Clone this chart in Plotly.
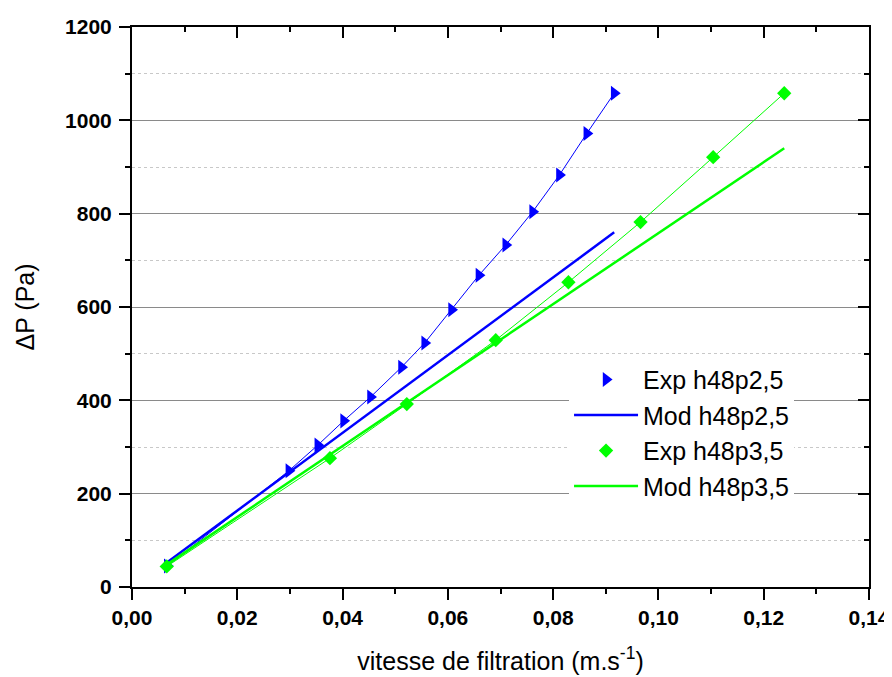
import plotly.graph_objects as go

# Data
exp25_x = [0.0067, 0.0298, 0.0353, 0.0402, 0.0453, 0.0512, 0.0556, 0.0607, 0.0659, 0.0710, 0.0761, 0.0812, 0.0864, 0.0916]
exp25_y = [45, 249, 304, 356, 407, 471, 523, 594, 668, 733, 804, 883, 972, 1058]
mod25_x = [0.0067, 0.0916]
mod25_y = [53, 760]

exp35_x = [0.0066, 0.0376, 0.0522, 0.0691, 0.0829, 0.0966, 0.1104, 0.1239]
exp35_y = [44, 276, 392, 529, 653, 782, 921, 1058]
mod35_x = [0.0066, 0.1239]
mod35_y = [48, 940]

x_tickvals = [0.00, 0.02, 0.04, 0.06, 0.08, 0.10, 0.12, 0.14]
x_ticktext = ["0,00", "0,02", "0,04", "0,06", "0,08", "0,10", "0,12", "0,14"]
y_tickvals = [0, 200, 400, 600, 800, 1000, 1200]
y_ticktext = ["0", "200", "400", "600", "800", "1000", "1200"]

BLUE = "#0000FF"
GREEN = "#00FF00"
FONT = "Liberation Sans, Arial, sans-serif"

fig = go.Figure()
# connecting thin lines for the experimental series (not in legend)
fig.add_trace(go.Scatter(x=exp25_x, y=exp25_y, mode="lines", showlegend=False,
                         line=dict(color=BLUE, width=1), hoverinfo="skip"))
fig.add_trace(go.Scatter(x=exp35_x, y=exp35_y, mode="lines", showlegend=False,
                         line=dict(color=GREEN, width=1), hoverinfo="skip"))
# legend entries
fig.add_trace(go.Scatter(x=exp25_x, y=exp25_y, mode="markers", name="Exp h48p2,5",
                         marker=dict(symbol="triangle-right", size=13, color=BLUE)))
fig.add_trace(go.Scatter(x=mod25_x, y=mod25_y, mode="lines", name="Mod h48p2,5",
                         line=dict(color=BLUE, width=2.5)))
fig.add_trace(go.Scatter(x=exp35_x, y=exp35_y, mode="markers", name="Exp h48p3,5",
                         marker=dict(symbol="diamond", size=11, color=GREEN)))
fig.add_trace(go.Scatter(x=mod35_x, y=mod35_y, mode="lines", name="Mod h48p3,5",
                         line=dict(color=GREEN, width=2.5)))
# invisible copy on the mirror axes so that the top/right frame is drawn
fig.add_trace(go.Scatter(x=exp25_x, y=exp25_y, mode="markers", xaxis="x2", yaxis="y2",
                         marker=dict(opacity=0), showlegend=False, hoverinfo="skip"))

fig.update_layout(
    width=884, height=669,
    margin=dict(l=124, r=23, t=19, b=90),
    paper_bgcolor="white", plot_bgcolor="white",
    font=dict(family=FONT, color="black"),
    showlegend=True,
    legend=dict(x=0.593, y=0.411, xanchor="left", yanchor="top",
                bgcolor="white", borderwidth=0, font=dict(size=25, family=FONT),
                itemwidth=64),
    xaxis=dict(range=[0, 0.14], tickvals=x_tickvals, ticktext=x_ticktext, automargin=False,
               ticks="outside", ticklen=11, tickwidth=2, tickcolor="black",
               showline=True, linewidth=2, linecolor="black", showgrid=False, zeroline=False,
               tickfont=dict(size=21, family=FONT, weight="bold"),
               minor=dict(dtick=0.01, ticks="outside", ticklen=5, tickwidth=2, tickcolor="black", showgrid=False),
               title=dict(text="vitesse de filtration (m.s<sup>-1</sup>)", font=dict(size=25, family=FONT), standoff=24)),
    yaxis=dict(range=[0, 1200], tickvals=y_tickvals, ticktext=y_ticktext, automargin=False,
               ticks="outside", ticklen=11, tickwidth=2, tickcolor="black", ticklabelstandoff=3,
               showline=True, linewidth=2, linecolor="black", zeroline=False,
               showgrid=True, gridcolor="#8a8a8a", gridwidth=1,
               tickfont=dict(size=21, family=FONT, weight="bold"),
               minor=dict(dtick=100, tick0=0, ticks="outside", ticklen=5, tickwidth=2, tickcolor="black",
                          showgrid=True, gridcolor="#c8c8c8", gridwidth=1, griddash="dot"),
               title=dict(text="ΔP (Pa)", font=dict(size=25, family=FONT), standoff=23)),
    xaxis2=dict(overlaying="x", anchor="y2", side="top", range=[0, 0.14], tickvals=x_tickvals, automargin=False,
                ticks="inside", ticklen=11, tickwidth=2, tickcolor="black", showticklabels=False,
                showline=True, linewidth=2, linecolor="black", showgrid=False, zeroline=False,
                minor=dict(dtick=0.01, ticks="inside", ticklen=5, tickwidth=2, tickcolor="black", showgrid=False)),
    yaxis2=dict(overlaying="y", anchor="x2", side="right", range=[0, 1200], tickvals=y_tickvals, automargin=False,
                ticks="inside", ticklen=11, tickwidth=2, tickcolor="black", showticklabels=False,
                showline=True, linewidth=2, linecolor="black", showgrid=False, zeroline=False,
                minor=dict(dtick=100, tick0=0, ticks="inside", ticklen=5, tickwidth=2, tickcolor="black", showgrid=False)),
)

fig.write_html("out.html")
